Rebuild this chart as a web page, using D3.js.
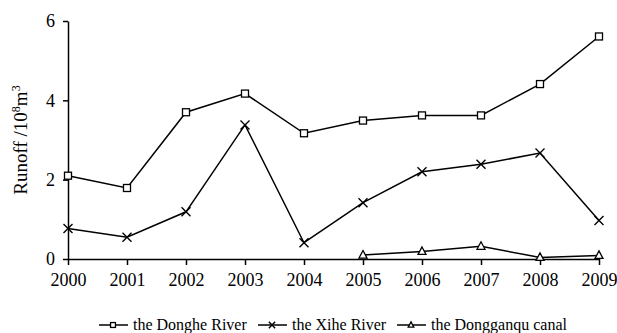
<!DOCTYPE html>
<html>
<head>
<meta charset="utf-8">
<script src="https://cdn.jsdelivr.net/npm/d3@7"></script>
<style>
  html, body { margin: 0; padding: 0; background: #fff; }
  svg { display: block; }
  text { font-family: "Liberation Serif", "Times New Roman", serif; fill: #000; }
</style>
</head>
<body>
<svg id="chart" width="617" height="333"></svg>
<script>
// Annual runoff (10^8 m^3)
const years = [2000, 2001, 2002, 2003, 2004, 2005, 2006, 2007, 2008, 2009];
const donghe = [2.10, 1.79, 3.70, 4.17, 3.17, 3.49, 3.62, 3.62, 4.41, 5.61];
const xihe = [0.77, 0.55, 1.19, 3.38, 0.41, 1.42, 2.20, 2.39, 2.67, 0.97];
const dongganquYears = [2005, 2006, 2007, 2008, 2009];
const dongganqu = [0.10, 0.19, 0.32, 0.04, 0.09];
const yTicks = [0, 2, 4, 6];
const seriesNames = ["the Donghe River", "the Xihe River", "the Dongganqu canal"];

const svg = d3.select("#chart");
const margin = { left: 68, right: 18, top: 21, bottom: 74 };
const W = 617, H = 333;
const serif = "'Liberation Serif', 'Times New Roman', serif";

const x = d3.scalePoint().domain(years).range([margin.left, W - margin.right]);
const y = d3.scaleLinear().domain([0, 6]).range([H - margin.bottom, margin.top]);

// Axes
const xAxis = svg.append("g")
  .attr("transform", `translate(0,${y(0)})`)
  .call(d3.axisBottom(x).tickSize(6).tickSizeOuter(0).tickPadding(8).tickFormat(d3.format("d")));
const yAxis = svg.append("g")
  .attr("transform", `translate(${margin.left},0)`)
  .call(d3.axisLeft(y).tickValues(yTicks).tickSize(5).tickSizeOuter(0).tickPadding(8).tickFormat(d3.format("d")));
[xAxis, yAxis].forEach(g => {
  g.attr("font-family", serif).attr("font-size", 18);
  g.select(".domain").attr("stroke", "#000").attr("stroke-width", 1.5);
  g.selectAll(".tick line").attr("stroke", "#000").attr("stroke-width", 1.5);
  g.selectAll(".tick text").style("font-family", serif).style("font-size", "18px").attr("fill", "#000");
});

// Y axis title with superscripts
const yTitle = svg.append("text")
  .attr("transform", `translate(27,${(y(0) + y(6)) / 2}) rotate(-90)`)
  .attr("text-anchor", "middle")
  .attr("font-size", 19);
yTitle.append("tspan").text("Runoff /10");
yTitle.append("tspan").attr("baseline-shift", "super").attr("font-size", 12).text("8");
yTitle.append("tspan").text("m");
yTitle.append("tspan").attr("baseline-shift", "super").attr("font-size", 12).text("3");

const line = d3.line().x(d => x(d[0])).y(d => y(d[1]));

// Marker drawing helpers (k scales the marker size)
function square(g, cx, cy, k = 1) {
  const h = 3.5 * k;
  g.append("rect").attr("x", cx - h).attr("y", cy - h).attr("width", 2 * h).attr("height", 2 * h)
    .attr("fill", "#fff").attr("stroke", "#000").attr("stroke-width", 1.3);
}
function cross(g, cx, cy, k = 1) {
  const s = 4.5 * k;
  g.append("path").attr("d", `M${cx - s},${cy - s}L${cx + s},${cy + s}M${cx - s},${cy + s}L${cx + s},${cy - s}`)
    .attr("stroke", "#000").attr("stroke-width", 1.4).attr("fill", "none");
}
function triangle(g, cx, cy, k = 1) {
  g.append("path").attr("d", `M${cx},${cy - 4.5 * k}L${cx + 4 * k},${cy + 3 * k}L${cx - 4 * k},${cy + 3 * k}Z`)
    .attr("fill", "#fff").attr("stroke", "#000").attr("stroke-width", 1.3);
}

const series = [
  { name: seriesNames[0], data: years.map((yr, i) => [yr, donghe[i]]), marker: square },
  { name: seriesNames[1], data: years.map((yr, i) => [yr, xihe[i]]), marker: cross },
  { name: seriesNames[2], data: dongganquYears.map((yr, i) => [yr, dongganqu[i]]), marker: triangle }
];

series.forEach(s => {
  const g = svg.append("g");
  g.append("path").datum(s.data).attr("d", line)
    .attr("fill", "none").attr("stroke", "#000").attr("stroke-width", 1.5);
  s.data.forEach(d => s.marker(g, x(d[0]), y(d[1])));
});

// Legend
const legendY = 325;
const legendX = [99, 258, 397];
series.forEach((s, i) => {
  const g = svg.append("g");
  const lx = legendX[i];
  g.append("line").attr("x1", lx).attr("x2", lx + 29).attr("y1", legendY).attr("y2", legendY)
    .attr("stroke", "#000").attr("stroke-width", 1.5);
  s.marker(g, lx + 14, legendY, 0.7);
  g.append("text").attr("x", lx + 34).attr("y", legendY + 5).attr("font-size", 16).text(s.name);
});
</script>
</body>
</html>
